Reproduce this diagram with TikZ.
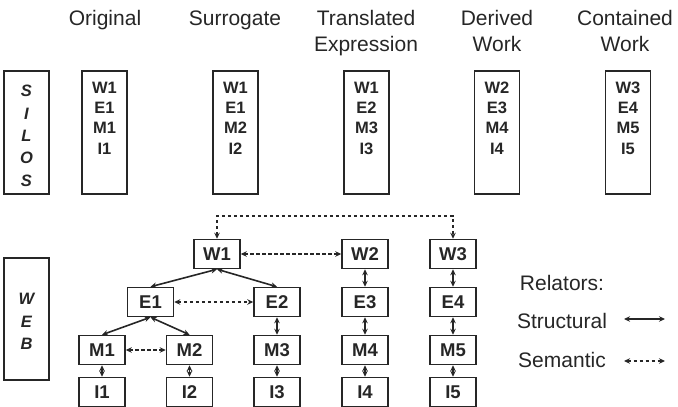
\documentclass[tikz,border=0pt]{standalone}
\usepackage{fontspec}
\setmainfont{Liberation Sans}
\usetikzlibrary{arrows.meta}
\definecolor{ink}{HTML}{262626}

\begin{document}
\begin{tikzpicture}[x=1pt,y=-1pt,
  box/.style={draw=ink,text=ink,line width=1.5pt,minimum width=46pt,minimum height=29pt,inner sep=0pt,font=\fontsize{18.5}{20}\selectfont\bfseries},
  silo/.style={draw=ink,line width=1.5pt,minimum width=45pt,minimum height=123pt,inner sep=0pt},
  silotext/.style={text=ink,align=center,anchor=base,inner sep=0pt,font=\fontsize{16.5}{20.3}\selectfont\bfseries},
  letter/.style={text=ink,inner sep=0pt,anchor=base,font=\fontsize{16.5}{20}\selectfont\bfseries\itshape},
  head/.style={text=ink,align=center,anchor=base,inner sep=0pt,font=\fontsize{21}{26}\selectfont},
  rel/.style={draw=ink,line width=1.6pt,{Stealth[length=6pt,width=5.5pt]}-{Stealth[length=6pt,width=5.5pt]}},
  semrel/.style={rel,dash pattern=on 3.5pt off 2.5pt}]
\useasboundingbox (0,0) rectangle (678,407);

\node[head] (h1) at (105,25) {Original};
\node[head] (h2) at (235,25) {Surrogate};
\node[head] (h3) at (366,51) {Translated\\Expression};
\node[head] (h4) at (497,51) {Derived\\Work};
\node[head] (h5) at (625,51) {Contained\\Work};

\node[silo] (silos) at (26.5,132.5) {};
\foreach \c [count=\i] in {S,I,L,O,S}
  \node[letter] (s\i) at (26.5,74.5+22.3*\i) {\c};
\node[silo] (orig) at (104.5,132.5) {};
\node[silo] (surr) at (235.5,132.5) {};
\node[silo] (trans) at (366.5,132.5) {};
\node[silo] (deriv) at (497,132.5) {};
\node[silo] (cont) at (628,132.5) {};
\node[silotext] (t1) at (104.5,154) {W1\\E1\\M1\\I1};
\node[silotext] (t2) at (235.5,154) {W1\\E1\\M2\\I2};
\node[silotext] (t3) at (366.5,154) {W1\\E2\\M3\\I3};
\node[silotext] (t4) at (497,154) {W2\\E3\\M4\\I4};
\node[silotext] (t5) at (628,154) {W3\\E4\\M5\\I5};

\node[silo,minimum height=122pt] (web) at (26.5,319) {};
\foreach \c [count=\i] in {W,E,B}
  \node[letter] (b\i) at (26.5,282+22.5*\i) {\c};

\node[box] (W1) at (217,254) {W1};
\node[box] (W2) at (365,254) {W2};
\node[box] (W3) at (453,254) {W3};
\node[box] (E1) at (150.5,302) {E1};
\node[box] (E2) at (277,302) {E2};
\node[box] (E3) at (365,302) {E3};
\node[box] (E4) at (453,302) {E4};
\node[box] (M1) at (102,350) {M1};
\node[box] (M2) at (189.5,350) {M2};
\node[box] (M3) at (277,350) {M3};
\node[box] (M4) at (365,350) {M4};
\node[box] (M5) at (453,350) {M5};
\node[box] (I1) at (102,392) {I1};
\node[box] (I2) at (189.5,392) {I2};
\node[box] (I3) at (277,392) {I3};
\node[box] (I4) at (365,392) {I4};
\node[box] (I5) at (453,392) {I5};

\draw[rel] (W1.south) -- (E1.north);
\draw[rel] (W1.south) -- (E2.north);
\draw[rel] (E1.south) -- (M1.north);
\draw[rel] (E1.south) -- (M2.north);
\draw[rel] (E2) -- (M3);
\draw[rel] (W2) -- (E3);
\draw[rel] (E3) -- (M4);
\draw[rel] (W3) -- (E4);
\draw[rel] (E4) -- (M5);
\foreach \n in {1,...,5}
  \draw[rel] (M\n) -- (I\n);

\coordinate (top) at (335,216);
\draw[semrel] (W1.north) |- (top) -| (W3.north);
\draw[semrel] (W1) -- (W2);
\draw[semrel] (E1) -- (E2);
\draw[semrel] (M1) -- (M2);

\node[head] (relators) at (562,290.5) {Relators:};
\node[head] (structural) at (562,328.5) {Structural};
\node[head] (semantic) at (562,367) {Semantic};
\coordinate (sa) at (624,319);
\coordinate (sb) at (665,319);
\coordinate (ma) at (624,361);
\coordinate (mb) at (665,361);
\draw[rel] (sa) -- (sb);
\draw[semrel] (ma) -- (mb);
\end{tikzpicture}
\end{document}
